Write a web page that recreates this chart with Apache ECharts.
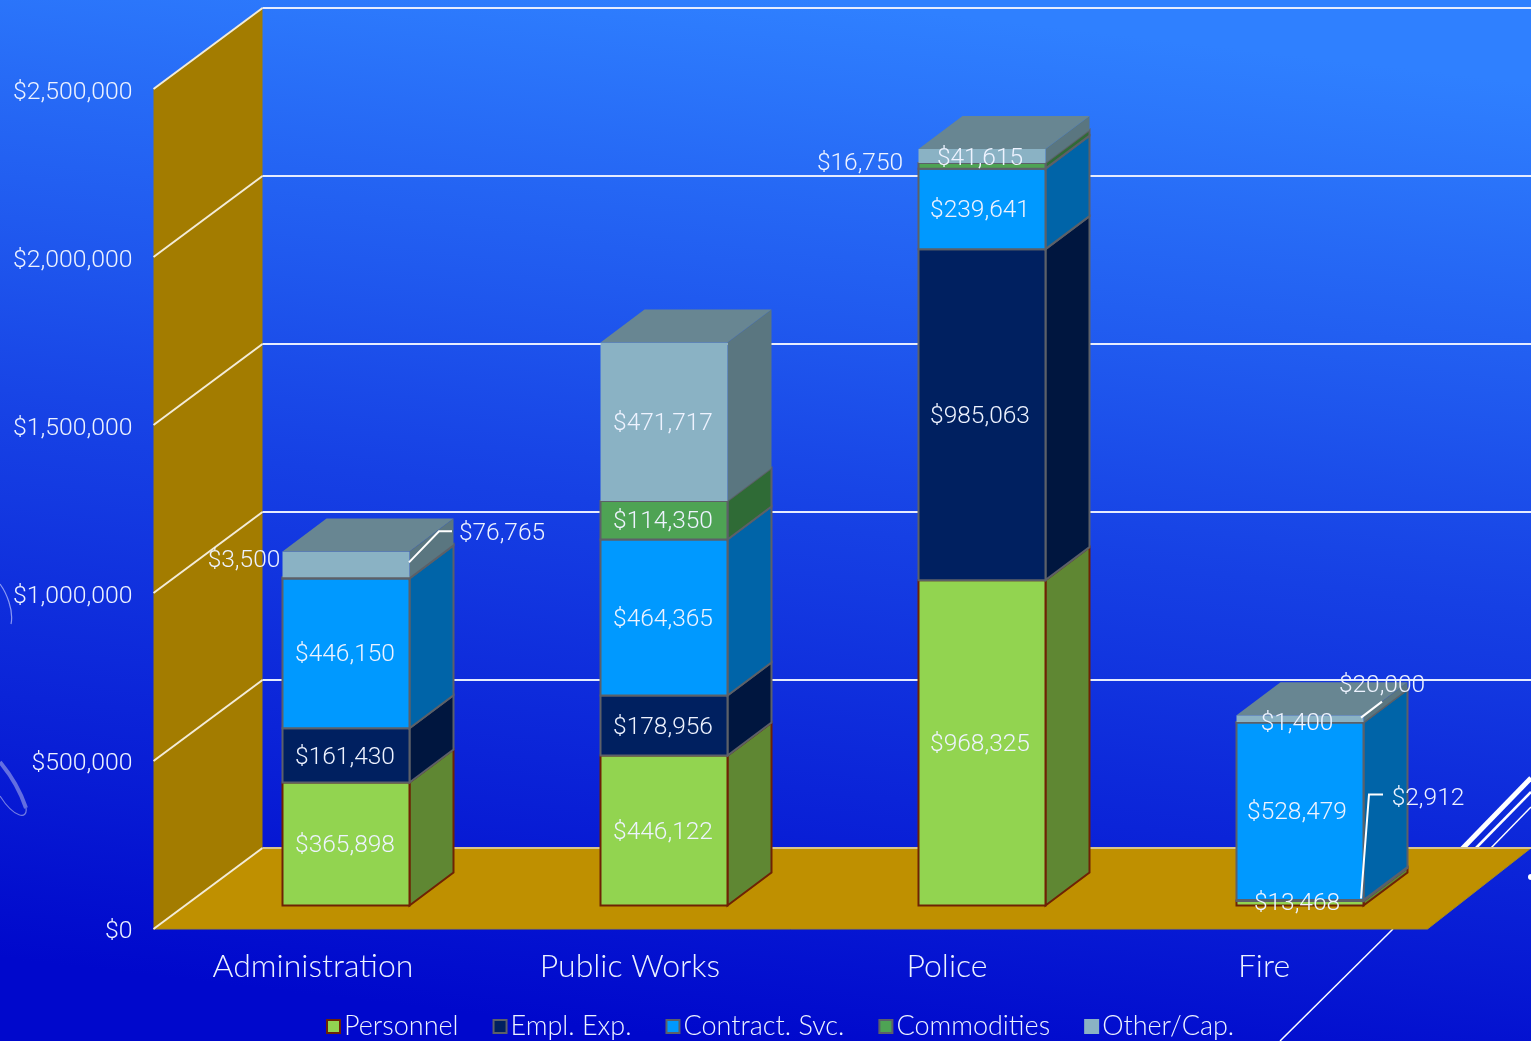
<!DOCTYPE html>
<html><head><meta charset="utf-8">
<style>html,body{margin:0;padding:0;background:#0a2ae0}#c{width:1531px;height:1041px}</style>
<script src="https://cdn.jsdelivr.net/npm/echarts@6/dist/echarts.min.js"></script>
</head><body><div id="c"></div>
<script>
const categories = ['Administration','Public Works','Police','Fire'];
const personnel   = [365898,446122,968325,13468];
const emplExp     = [161430,178956,985063,2912];
const contractSvc = [446150,464365,239641,528479];
const commodities = [3500,114350,16750,1400];
const otherCap    = [76765,471717,41615,20000];
const yMax = 2500000, yStep = 500000;
const yTicks = [0,500000,1000000,1500000,2000000,2500000];

const names = ['Personnel','Empl. Exp.','Contract. Svc.','Commodities','Other/Cap.'];
const values = [personnel,emplExp,contractSvc,commodities,otherCap];
const faces = ['#92d450','#002060','#0099ff','#4ea354','#8ab2c4'];
const sides = ['#5f8733','#00163f','#0064a8','#2f6b36','#5a7680'];
const edges = ['#6e2204','#5c6068','#5c6068','#5c6068','#7fa6b8'];
const topFace = '#688692';

// offsets of the 3D projection (px)
const bx = 44, by = -33, wx = 109, wy = -81, barRatio = 127/318;
const floorExtraRight = 5;

const fmt = v => '$' + v.toLocaleString('en-US');
const numFont = 'Roboto', txtFont = 'Lato', ink = '#eef3ff';

// label nudges keyed by category-series; leader polylines relative to segment centre
const labelNudge = {'0-3':[-102,-19],'0-4':[156,-32],'2-3':[-122,-4],'2-4':[-2,1],
  '3-0':[-3,-1],'3-1':[128,-104],'3-3':[-3,0],'3-4':[82,-35]};
const leaders = {'0-4':[[63,-2],[93,-33],[106,-33]],
  '3-1':[[61,-2],[69,-106],[83,-106]],'3-4':[[61,-1],[82,-17]]};
const labelShift = [-1,-1,-2,-3];
const labelDrop = 2;

function stackData(s){
  return categories.map((_,c)=>{
    let st=0; for(let k=0;k<s;k++) st+=values[k][c];
    return [c,st,st+values[s][c]];
  });
}
const barSeries = names.map((nm,s)=>({
  name:nm,type:'custom',xAxisIndex:1,yAxisIndex:1,z:5,silent:true,clip:false,
  itemStyle:{color:faces[s],borderColor:s===4?faces[s]:edges[s],borderWidth:2},
  data:stackData(s),
  renderItem(p,api){
    const c=api.value(0),a=api.coord([c,api.value(1)]),b=api.coord([c,api.value(2)]);
    const w=api.size([1,0])[0]*barRatio,l=a[0]-w/2,r=a[0]+w/2,lw=s===4?0:2;
    const kids=[
      {type:'polygon',shape:{points:[[r,a[1]],[r+bx,a[1]+by],[r+bx,b[1]+by],[r,b[1]]]},
       style:{fill:sides[s],stroke:edges[s],lineWidth:lw}},
      {type:'polygon',shape:{points:[[l,a[1]],[r,a[1]],[r,b[1]],[l,b[1]]]},
       style:{fill:faces[s],stroke:edges[s],lineWidth:lw}}
    ];
    if(s===4) kids.push({type:'polygon',shape:{points:[[l,b[1]],[r,b[1]],[r+bx,b[1]+by],[l+bx,b[1]+by]]},
       style:{fill:topFace}});
    return {type:'group',children:kids};
  }
}));

const labelData=[];
names.forEach((_,s)=>stackData(s).forEach(d=>labelData.push([d[0],(d[1]+d[2])/2,s,values[s][d[0]]])));

const shell={type:'custom',z:1,silent:true,clip:false,data:[[0,0]],
  renderItem(p,api){
    const cs=p.coordSys,x=cs.x-1,y0=api.coord([0,0])[1],yT=api.coord([0,yMax])[1],xr=cs.x+cs.width+floorExtraRight;
    return {type:'group',children:[
      {type:'polygon',shape:{points:[[x,y0],[x+wx,y0+wy],[x+wx,yT+wy],[x,yT]]},style:{fill:'#a37c00'}},
      {type:'polygon',shape:{points:[[x,y0],[x+wx,y0+wy],[1531,y0+wy],[xr,y0]]},style:{fill:'#bf9000',stroke:'#a88a20',lineWidth:1}}
    ]};
  }};
const grids={type:'custom',z:2,silent:true,clip:false,data:yTicks.map(v=>[0,v]),
  renderItem(p,api){
    const v=api.value(1),q=api.coord([0,v]),x=p.coordSys.x-1,y=q[1];
    return {type:'group',children:[
      {type:'line',shape:{x1:x,y1:y,x2:x+wx,y2:y+wy},style:{stroke:'#f3ecd8',lineWidth:2}},
      {type:'line',shape:{x1:x+wx,y1:y+wy,x2:1531,y2:y+wy},style:{stroke:v===0?'#d9c48a':'#e6ecff',lineWidth:2}}
    ]};
  }};
const labels={type:'custom',z:8,silent:true,clip:false,xAxisIndex:1,yAxisIndex:1,data:labelData,
  renderItem(p,api){
    const c=api.value(0),s=api.value(2),q=api.coord([c,api.value(1)]),key=c+'-'+s;
    const n=labelNudge[key]||[labelShift[c],0];
    const kids=[{type:'text',style:{text:fmt(api.value(3)),x:q[0]+n[0],y:q[1]+n[1]+labelDrop,align:'center',verticalAlign:'middle',
      fill:ink,font:'300 24.5px '+numFont}}];
    if(leaders[key]) kids.unshift({type:'polyline',shape:{points:leaders[key].map(o=>[q[0]+o[0],q[1]+o[1]])},
      style:{fill:null,stroke:'#fff',lineWidth:2}});
    return {type:'group',children:kids};
  }};

const deco=[
  {type:'line',z:0,shape:{x1:1462,y1:849,x2:1531,y2:778},style:{stroke:'#fff',lineWidth:5}},
  {type:'line',z:0,shape:{x1:1475,y1:849,x2:1531,y2:792},style:{stroke:'#fff',lineWidth:2.5}},
  {type:'line',z:0,shape:{x1:1490,y1:849,x2:1531,y2:807},style:{stroke:'#fff',lineWidth:1.5}},
  {type:'line',z:0,shape:{x1:1393,y1:929,x2:1280,y2:1041},style:{stroke:'#fff',lineWidth:1.5}},
  {type:'circle',z:0,shape:{cx:1531,cy:877,r:3},style:{fill:'#fff'}},
  {type:'bezierCurve',z:0,shape:{x1:0,y1:584,cpx1:6,cpy1:592,cpx2:14,cpy2:610,x2:11,y2:624},style:{stroke:'rgba(205,210,255,.65)',lineWidth:1.2,fill:null}},
  {type:'bezierCurve',z:0,shape:{x1:0,y1:762,cpx1:10,cpy1:774,cpx2:20,cpy2:790,x2:26,y2:808},style:{stroke:'rgba(175,180,235,.55)',lineWidth:4,fill:null}},
  {type:'bezierCurve',z:0,shape:{x1:26,y1:808,cpx1:28,cpy1:820,cpx2:14,cpy2:818,x2:0,y2:796},style:{stroke:'rgba(175,180,235,.65)',lineWidth:1.2,fill:null}}
];

const chart=echarts.init(document.getElementById('c'),null,{renderer:'canvas',width:1531,height:1041});
chart.setOption({
  animation:false,
  backgroundColor:{type:'linear',x:0.54,y:0,x2:0.46,y2:1,colorStops:[
    {offset:0,color:'#2f80ff'},{offset:0.5,color:'#1640e4'},{offset:1,color:'#0008cc'}]},
  graphic:{elements:deco},
  legend:{data:names,left:321,top:1008,itemWidth:13,itemHeight:13,itemGap:34,selectedMode:false,icon:'rect',
    textStyle:{color:ink,fontFamily:txtFont,fontWeight:300,fontSize:27,padding:[0,0,0,-1]}},
  grid:[{left:154.5,width:1268,top:89,height:840},{left:187,width:1272,top:65.5,height:840},{left:154.5,width:1268,top:93,height:839}],
  xAxis:[
    {type:'category',gridIndex:0,data:categories,axisLine:{show:false},axisTick:{show:false},splitLine:{show:false},
     axisLabel:{color:ink,fontFamily:txtFont,fontWeight:300,fontSize:32,margin:22}},
    {type:'category',gridIndex:1,data:categories,show:false},
    {type:'category',gridIndex:2,data:categories,show:false}
  ],
  yAxis:[
    {type:'value',gridIndex:0,min:0,max:yMax,interval:yStep,show:false},
    {type:'value',gridIndex:1,min:0,max:yMax,interval:yStep,show:false},
    {type:'value',gridIndex:2,min:0,max:yMax,interval:yStep,axisLine:{show:false},axisTick:{show:false},splitLine:{show:false},
     axisLabel:{color:ink,fontFamily:numFont,fontWeight:300,fontSize:24.8,margin:22,formatter:v=>fmt(v)}}
  ],
  series:[shell,grids,...barSeries,labels]
});
</script></body></html>
